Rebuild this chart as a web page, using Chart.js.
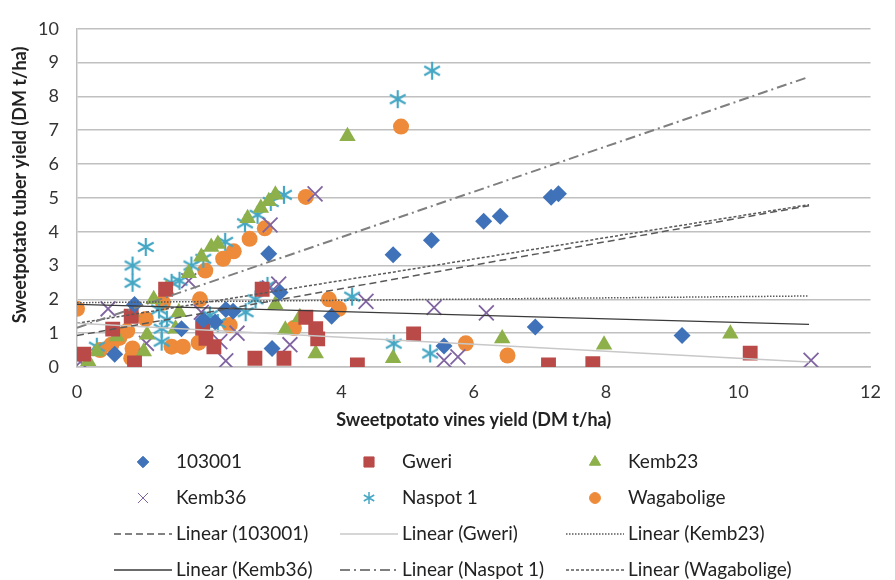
<!DOCTYPE html>
<html>
<head>
<meta charset="utf-8">
<script src="https://cdn.jsdelivr.net/npm/chart.js@4"></script>
<style>body{margin:0;background:#fff}</style>
</head>
<body>
<canvas id="myChart" width="895" height="580"></canvas>
<script>
// vines yield (x) and tuber yield (y), DM t/ha
const x103001 = [0.57,0.87,1.58,1.91,2.09,2.25,2.36,2.9,2.95,3.07,3.85,4.78,5.36,5.55,6.15,6.4,6.93,7.17,7.28,9.15];
const y103001 = [0.38,1.85,1.13,1.39,1.33,1.7,1.65,3.35,0.55,2.2,1.5,3.32,3.75,0.62,4.31,4.46,1.18,5.02,5.12,0.93];

const xGweri = [0.1,0.54,0.82,0.87,1.34,1.9,1.95,2.07,2.69,2.8,3.13,3.46,3.61,3.64,4.24,5.09,7.13,7.8,10.18];
const yGweri = [0.38,1.12,1.5,0.12,2.3,1.15,0.85,0.6,0.26,2.3,0.26,1.47,1.13,0.83,0.06,0.98,0.06,0.1,0.41];

const xKemb23 = [0.17,0.3,0.6,0.84,1.01,1.06,1.16,1.35,1.49,1.54,1.69,1.88,2.03,2.13,2.58,2.78,2.9,3.0,3.0,3.15,3.37,3.61,4.09,4.78,6.43,7.97,9.88];
const yKemb23 = [0.17,0.46,0.9,1.62,0.46,0.95,2.0,2.3,1.13,1.62,2.77,3.26,3.55,3.64,4.4,4.7,4.9,5.09,1.85,1.1,1.47,0.4,6.82,0.26,0.84,0.66,0.98];

const xKemb36 = [0.05,0.47,1.05,1.69,1.88,2.16,2.25,2.42,2.92,2.91,3.05,3.22,3.6,4.37,5.4,5.55,5.76,6.19,11.1];
const yKemb36 = [0.15,1.72,0.7,2.55,1.62,0.75,0.18,1.0,4.2,2.34,2.45,0.66,5.12,1.94,1.76,0.2,0.3,1.6,0.2];

const xNaspot = [0.3,0.84,0.84,1.04,1.24,1.28,1.28,1.36,1.43,1.55,1.73,1.91,2.01,2.13,2.24,2.54,2.55,2.7,2.73,2.88,2.93,3.13,4.16,4.79,4.85,5.34,5.37];
const yNaspot = [0.6,2.49,3.0,3.55,1.7,1.13,0.75,1.4,2.49,2.55,3.0,3.2,1.53,1.3,3.7,4.25,1.62,2.0,4.5,2.4,4.88,5.09,2.08,0.69,7.92,0.4,8.76];

const xWaga = [0.0,0.35,0.52,0.64,0.76,0.82,0.84,1.04,1.3,1.43,1.6,1.84,1.86,1.94,2.21,2.31,2.37,2.61,2.84,3.28,3.46,3.81,3.96,4.9,5.88,6.51];
const yWaga = [1.72,0.5,0.66,0.86,1.07,0.26,0.55,1.42,1.9,0.6,0.6,0.72,2.0,2.85,3.2,1.24,3.42,3.79,4.1,1.15,5.03,2.0,1.72,7.11,0.7,0.34];

// linear trendlines, read at the two ends
const trendX = [0, 11.07];
const trend103001 = [0.93, 4.77];
const trendGweri = [1.29, 0.15];
const trendKemb23 = [1.9, 2.1];
const trendKemb36 = [1.85, 1.26];
const trendNaspot = [1.16, 8.58];
const trendWaga = [1.29, 4.8];

const xTicks = [0, 2, 4, 6, 8, 10, 12];
const yTicks = [0, 1, 2, 3, 4, 5, 6, 7, 8, 9, 10];

function pts(xs, ys) {
    return xs.map((x, i) => ({ x: x, y: ys[i] }));
}

// six armed asterisk like the excel marker
function asterisk(size, color, lw) {
    const c = document.createElement('canvas');
    c.width = size; c.height = size;
    const g = c.getContext('2d');
    const m = size / 2, r = size / 2 - 1;
    g.strokeStyle = color;
    g.lineWidth = lw;
    g.beginPath();
    g.moveTo(m, m - r); g.lineTo(m, m + r);
    g.moveTo(m - r * 0.87, m - r * 0.5); g.lineTo(m + r * 0.87, m + r * 0.5);
    g.moveTo(m - r * 0.87, m + r * 0.5); g.lineTo(m + r * 0.87, m - r * 0.5);
    g.stroke();
    return c;
}

const cyan = '#45A7C4';
const starBig = asterisk(20, cyan, 2.2);
const starSmall = asterisk(14, cyan, 1.5);

function marker(label, xs, ys, style, r, color) {
    return {
        label: label,
        data: pts(xs, ys),
        pointStyle: style,
        pointRadius: r,
        pointHoverRadius: r,
        backgroundColor: color,
        borderColor: color,
        borderWidth: style == 'crossRot' ? 1.8 : 0,
        showLine: false,
        order: 2
    };
}

function trend(label, ys, color, dash, w) {
    return {
        label: label,
        data: pts(trendX, ys),
        showLine: true,
        pointRadius: 0,
        pointHoverRadius: 0,
        borderColor: color,
        borderWidth: w,
        borderDash: dash,
        fill: false,
        order: 1
    };
}

const datasets = [
    marker('103001', x103001, y103001, 'rectRot', 8.5, '#3F72B8'),
    marker('Gweri', xGweri, yGweri, 'rect', 10.5, '#B94A48'),
    marker('Kemb23', xKemb23, yKemb23, 'triangle', 9.5, '#8DB04A'),
    marker('Kemb36', xKemb36, yKemb36, 'crossRot', 10.5, '#8064A2'),
    marker('Naspot 1', xNaspot, yNaspot, starBig, 10, cyan),
    marker('Wagabolige', xWaga, yWaga, 'circle', 8, '#ED8B3A'),
    trend('Linear (103001)', trend103001, '#595959', [7, 4], 1.5),
    trend('Linear (Gweri)', trendGweri, '#C8C8C8', [], 1.5),
    trend('Linear (Kemb23)', trendKemb23, '#595959', [1.5, 1.5], 1.5),
    trend('Linear (Kemb36)', trendKemb36, '#3A3A3A', [], 1.3),
    trend('Linear (Naspot 1)', trendNaspot, '#7F7F7F', [10, 4, 2, 4], 2),
    trend('Linear (Wagabolige)', trendWaga, '#595959', [3, 2], 1.5)
];
datasets[4].legendImage = starSmall;

const font = 'Lato, "Open Sans", sans-serif';

const extras = {
    id: 'extras',
    afterDraw(chart) {
        const ctx = chart.ctx;
        const a = chart.chartArea;
        ctx.save();
        // axis titles
        ctx.fillStyle = '#222';
        ctx.font = 'bold 18px ' + font;
        ctx.textAlign = 'center';
        ctx.textBaseline = 'middle';
        ctx.fillText('Sweetpotato vines yield (DM t/ha)', (a.left + a.right) / 2, 420);
        ctx.save();
        ctx.translate(20, 185);
        ctx.rotate(-Math.PI / 2);
        ctx.fillText('Sweetpotato tuber yield (DM t/ha)', 0, 0);
        ctx.restore();

        // legend, 3 columns
        const cols = [176, 402, 628];
        const rows = [462, 498, 534, 570];
        ctx.font = '19px ' + font;
        ctx.textAlign = 'left';
        chart.data.datasets.forEach((ds, i) => {
            const tx = cols[i % 3], ty = rows[Math.floor(i / 3)];
            if (ds.showLine) {
                ctx.strokeStyle = ds.borderColor;
                ctx.lineWidth = ds.borderWidth;
                ctx.setLineDash(ds.borderDash);
                ctx.beginPath();
                ctx.moveTo(tx - 62, ty);
                ctx.lineTo(tx - 4, ty);
                ctx.stroke();
                ctx.setLineDash([]);
            } else if (ds.legendImage) {
                const im = ds.legendImage;
                ctx.drawImage(im, tx - 33 - im.width / 2, ty - im.height / 2);
            } else {
                ctx.fillStyle = ds.backgroundColor;
                ctx.strokeStyle = ds.borderColor;
                Chart.helpers.drawPoint(ctx, {
                    pointStyle: ds.pointStyle,
                    radius: ds.pointRadius * 0.68,
                    rotation: 0,
                    borderWidth: 1.3
                }, tx - 33, ty);
            }
            ctx.fillStyle = '#222';
            ctx.fillText(ds.label, tx, ty);
        });
        ctx.restore();
    }
};

const ctx = document.getElementById('myChart').getContext('2d');
const myChart = new Chart(ctx, {
    type: 'scatter',
    data: { datasets: datasets },
    options: {
        responsive: false,
        animation: false,
        layout: { padding: { top: 20, right: 14, left: 0, bottom: 0 } },
        plugins: {
            legend: { display: false },
            tooltip: { enabled: false }
        },
        scales: {
            x: {
                type: 'linear',
                min: 0,
                max: 12,
                afterBuildTicks: s => { s.ticks = xTicks.map(v => ({ value: v })); },
                afterFit: s => { s.height = 213; },
                grid: { display: false, drawTicks: false },
                border: { color: '#BFBFBF', width: 1.5 },
                ticks: { padding: 14, color: '#333', font: { family: font, size: 18 } }
            },
            y: {
                type: 'linear',
                min: 0,
                max: 10,
                afterBuildTicks: s => { s.ticks = yTicks.map(v => ({ value: v })); },
                afterFit: s => { s.width = 77; },
                grid: { color: '#C0C0C0', lineWidth: 1.6, drawTicks: false },
                border: { color: '#BFBFBF', width: 1.5 },
                ticks: { padding: 18, color: '#333', font: { family: font, size: 18 } }
            }
        }
    },
    plugins: [extras]
});
</script>
</body>
</html>
